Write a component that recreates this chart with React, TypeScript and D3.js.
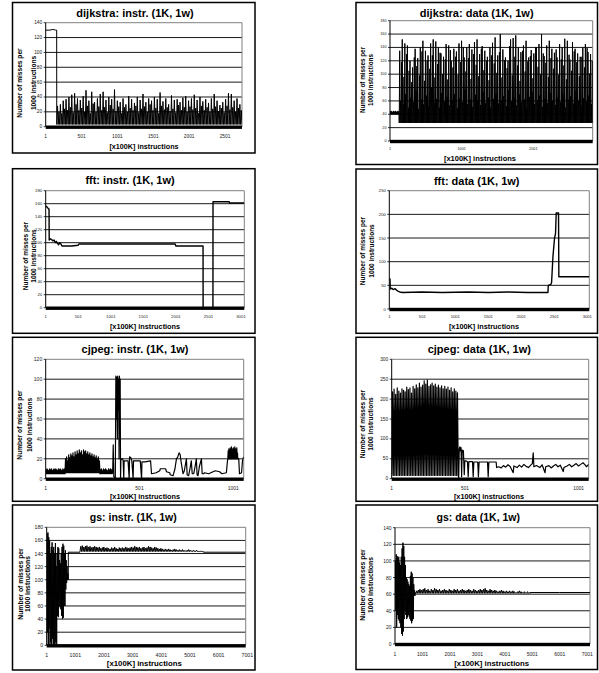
import React from "react";
import * as d3 from "d3";

type Pt = [number, number];
type Seg =
  | { pts: Pt[] }
  | { from: number; to: number; low: number | number[]; highs: number[] };

// ---------------- DATA ----------------
const TITLES = [
  "dijkstra: instr. (1K, 1w)",
  "dijkstra: data (1K, 1w)",
  "fft: instr. (1K, 1w)",
  "fft: data (1K, 1w)",
  "cjpeg: instr. (1K, 1w)",
  "cjpeg: data (1K, 1w)",
  "gs: instr. (1K, 1w)",
  "gs: data (1K, 1w)",
];
const X_LABEL = "[x100K] instructions";
const Y_LABEL = ["Number of misses per", "1000 instructions"];

const X_TICKS_DIJ_INSTR = [1, 501, 1001, 1501, 2001, 2501];
const X_TICKS_DIJ_DATA = [1, 1001, 2001];
const X_TICKS_FFT = [1, 501, 1001, 1501, 2001, 2501, 3001];
const X_TICKS_CJPEG = [1, 501, 1001];
const X_TICKS_GS = [1, 1001, 2001, 3001, 4001, 5001, 6001, 7001];

// dijkstra instr
const DIJ_INSTR_HEAD: Pt[] = [[1, 130], [60, 130], [100, 131], [140, 130], [154, 130], [155, 5]];
const DIJ_INSTR_LOW = 3;
const DIJ_INSTR_PEAKS = [
  28, 20, 30, 18, 35, 24, 37, 22, 40, 26, 43, 19, 45, 30, 38, 22, 36, 25, 41, 20,
  49, 28, 35, 18, 47, 31, 33, 20, 38, 27, 44, 22, 47, 26, 36, 19, 40, 29, 37, 24,
  50, 21, 35, 27, 33, 18, 38, 26, 30, 20, 41, 25, 37, 22, 32, 28, 40, 19, 36, 24,
  44, 27, 33, 20, 38, 30, 35, 22, 40, 25, 37, 18, 46, 28, 34, 23, 38, 26, 30, 21,
  42, 24, 36, 19, 37, 29, 33, 22, 39, 26, 41, 20, 35, 27, 38, 23, 43, 25, 36, 18,
  40, 28, 34, 22, 37, 26, 32, 20, 38, 24, 44, 27, 35, 21, 29, 25, 33, 19, 37, 28,
  45, 23, 44, 26, 35, 20, 38, 25, 30, 22,
];

// dijkstra data
const DIJ_DATA_HEAD_LOW = 40;
const DIJ_DATA_HEAD_PEAKS = [44, 45, 44, 43, 45, 44, 44, 45, 43, 44, 45, 44];
const DIJ_DATA_LOW = 27;
const DIJ_DATA_SPIKES = [
  135, 152, 146, 143, 120, 110, 138, 124, 140, 150, 135, 128, 146, 152, 149, 140, 131, 126, 145, 143,
  120, 138, 134, 146, 150, 125, 140, 145, 137, 148, 152, 130, 142, 135, 126, 140, 147, 155, 128, 160,
  137, 125, 120, 152, 154, 158, 140, 133, 143, 150, 125, 136, 131, 140, 145, 160, 127, 143, 150, 138,
  132, 125, 145, 140, 153, 150, 122, 148, 138, 131, 126, 140, 145, 133, 130,
];
const DIJ_DATA_MIDS = [
  60, 55, 70, 50, 65, 58, 75, 48, 62, 55, 68, 52, 80, 57, 63, 50, 72, 59, 66, 53,
  61, 70, 49, 64, 58, 77, 55, 62, 51, 69, 60, 54, 73, 57, 65, 50, 63, 71, 56, 60,
  67, 52, 76, 59, 64, 53, 70, 58, 62, 49, 66, 74, 55, 61, 68, 51, 63, 57, 72, 60,
  54, 65, 58, 70, 50, 62, 67, 56, 75, 60, 53, 64, 59, 68, 55,
];
const DIJ_DATA_SPIKES_B = [
  118, 96, 130, 105, 88, 125, 112, 98, 134, 90, 120, 108, 128, 95, 115, 132, 100, 122, 92, 136,
  110, 126, 99, 118, 140, 104, 124, 93, 130, 114, 97, 138, 106, 120, 91, 128, 116, 102, 133, 95,
  121, 109, 142, 98, 126, 113, 90, 135, 104, 119, 127, 94, 140, 111, 100, 131, 117, 96, 124, 108,
  137, 99, 122, 113, 92, 129, 105, 134, 118, 97, 126, 110, 139, 101, 120,
];

// fft instr
const FFT_INSTR: Pt[] = [
  [1, 157], [20, 155], [45, 152], [52, 152], [55, 104], [70, 106], [90, 105], [110, 103],
  [130, 104], [150, 100], [165, 102], [180, 99], [200, 97], [215, 100], [235, 98], [250, 95],
  [400, 95], [500, 96], [510, 98], [1000, 98], [1500, 98], [1990, 98], [2000, 95], [2418, 95],
  [2419, 0], [2570, 0], [2571, 163], [2820, 163], [2825, 161], [3052, 161],
];

// fft data
const FFT_DATA: Pt[] = [
  [1, 65], [12, 63], [15, 42], [40, 44], [60, 41], [90, 43], [110, 40], [130, 38], [160, 36],
  [200, 35], [500, 36], [800, 35], [1200, 36], [1500, 35], [1800, 36], [2100, 35], [2405, 35],
  [2410, 50], [2450, 52], [2460, 56], [2480, 110], [2505, 150], [2520, 160], [2530, 203],
  [2565, 203], [2570, 68], [3031, 68],
];

// cjpeg instr
const CJ_INSTR_A_PEAKS = [9, 10, 9, 8, 10, 9, 10, 8, 9, 10, 9, 10, 9, 8, 10, 9, 10, 9, 8, 10, 9, 10];
const CJ_INSTR_B_PEAKS = [
  20, 22, 18, 24, 21, 25, 23, 26, 22, 27, 24, 28, 25, 29, 26, 28, 24, 29, 27, 28,
  25, 27, 24, 26, 23, 25, 22, 24, 21, 23, 20, 22, 18,
];
const CJ_INSTR_C_PEAKS = [9, 10, 8, 10, 9, 10, 9, 8, 10, 9, 10, 9];
const CJ_INSTR_MID: Pt[] = [
  [358, 6], [361, 34], [364, 2], [372, 0], [375, 103], [378, 60], [380, 102], [383, 40],
  [385, 103], [388, 70], [390, 100], [392, 20], [394, 103], [396, 85], [398, 100], [400, 0],
  [402, 20], [410, 20], [414, 18], [417, 0], [419, 18], [440, 18], [446, 0], [448, 22],
  [455, 21], [460, 18], [467, 0], [469, 18], [505, 18], [512, 0], [514, 17], [530, 17],
  [560, 18], [565, 5], [590, 6], [609, 8], [612, 10], [640, 10], [645, 7], [662, 6],
  [665, 4], [680, 3], [690, 10], [698, 20], [705, 22], [712, 26], [718, 24], [722, 18],
  [733, 5], [740, 8], [751, 20], [755, 4], [763, 3], [770, 10], [777, 18], [782, 5],
  [790, 5], [797, 12], [804, 20], [808, 4], [813, 3], [820, 12], [831, 20], [835, 5],
  [843, 5], [848, 6], [870, 5], [893, 7], [905, 8], [928, 7], [940, 5], [964, 6], [970, 18],
];
const CJ_INSTR_E_PEAKS = [28, 30, 27, 31, 29, 32, 28, 30, 31, 29, 32, 30, 28, 31, 26];
const CJ_INSTR_TAIL: Pt[] = [[1030, 20], [1034, 5], [1045, 6], [1050, 18], [1056, 22]];

// cjpeg data
const CJ_DATA_LOW = 8;
const CJ_DATA_PEAKS = [
  218, 225, 212, 228, 220, 215, 226, 222, 218, 230, 224, 228, 215, 232, 226, 236, 228, 240, 230, 235,
  246, 238, 248, 232, 236, 240, 233, 238, 230, 235, 228, 233, 226, 232, 225, 230, 222, 228, 218, 226,
  220, 216,
];
const CJ_DATA_TAIL: Pt[] = [
  [458, 2], [462, 75], [466, 80], [470, 70], [474, 78], [478, 5], [482, 72], [490, 70],
  [496, 10], [500, 45], [508, 44], [512, 42], [515, 5], [518, 43], [534, 43], [537, 5],
  [540, 42], [557, 42], [560, 5], [563, 42], [600, 42], [603, 5], [606, 42], [638, 42],
  [640, 28], [650, 30], [660, 27], [670, 33], [680, 29], [690, 35], [700, 30], [713, 15],
  [716, 32], [730, 28], [740, 34], [750, 29], [760, 36], [770, 31], [780, 28], [790, 34],
  [797, 38], [801, 65], [804, 30], [815, 33], [830, 28], [840, 35], [853, 15], [856, 30],
  [870, 33], [880, 27], [890, 32], [900, 36], [910, 30], [920, 34], [933, 18], [936, 28],
  [950, 32], [960, 36], [970, 30], [980, 34], [990, 38], [1000, 32], [1010, 36], [1020, 40],
  [1030, 34], [1035, 30], [1045, 36],
];

// gs instr
const GS_INSTR_HIGHS = [170, 172, 165, 160, 140, 150, 157, 145, 150, 140, 156, 120, 140, 150, 148, 130, 125, 140, 150, 155, 152, 140, 145, 130, 120, 110];
const GS_INSTR_LOWS = [0, 20, 0, 25, 0, 5, 0, 10, 0, 2, 0, 5, 0, 45, 43, 60, 58, 55, 45, 40, 42, 60, 60, 85, 95, 100];
const GS_INSTR_BAND_LOW = 143;
const GS_INSTR_BAND = [
  151, 152, 150, 151, 152, 150, 151, 149, 150, 151, 150, 149, 150, 148, 149, 150, 148, 149, 148, 147,
  149, 148, 150, 148, 147, 149, 148, 149, 148, 150, 149, 148, 149, 150, 149, 151, 150, 149, 150, 148,
  149, 150, 148, 149, 151, 150, 149, 148, 150, 149, 148, 147, 148, 147, 146, 147, 146, 147, 146, 145,
  146, 147, 146, 145, 146, 145, 146, 145, 144, 145, 146, 145, 144, 145, 144, 145, 144, 143, 144, 143,
];

// gs data
const GS_DATA_HIGHS = [100, 108, 106, 104, 105, 98, 95, 105, 115, 122, 118, 105, 95, 80, 78, 75, 72, 70, 82, 87, 85, 80, 72, 65];
const GS_DATA_LOWS = [60, 40, 20, 35, 30, 28, 25, 20, 12, 10, 15, 30, 40, 35, 30, 32, 35, 33, 30, 28, 25, 28, 30, 58];
const GS_DATA_BAND_LOW = 61;
const GS_DATA_BAND = [
  64, 65, 66, 65, 66, 67, 65, 66, 64, 66, 65, 67, 66, 65, 66, 64, 65, 66, 65, 64,
  66, 65, 64, 66, 65, 66, 64, 65, 66, 65, 64, 65, 66, 65, 64, 66, 65, 64, 65, 66,
  65, 66, 67, 65, 64, 66, 65, 64, 65, 64, 63, 64, 65, 64, 63, 64, 63, 64, 63, 64,
  63, 62, 63, 64, 63, 62, 63, 62, 63, 62,
];

// ---------------- SERIES ----------------
const interleave3 = (a: number[], b: number[], c: number[]) => d3.zip(a, b, c).flat();

const SERIES: Seg[][] = [
  [
    { pts: DIJ_INSTR_HEAD },
    { from: 156, to: 2738, low: DIJ_INSTR_LOW, highs: DIJ_INSTR_PEAKS },
  ],
  [
    { from: 1, to: 128, low: DIJ_DATA_HEAD_LOW, highs: DIJ_DATA_HEAD_PEAKS },
    { from: 130, to: 2830, low: DIJ_DATA_LOW, highs: interleave3(DIJ_DATA_SPIKES, DIJ_DATA_MIDS, DIJ_DATA_SPIKES_B) },
  ],
  [{ pts: FFT_INSTR }],
  [{ pts: FFT_DATA }],
  [
    { from: 1, to: 104, low: 5, highs: CJ_INSTR_A_PEAKS },
    { from: 104, to: 290, low: 6, highs: CJ_INSTR_B_PEAKS },
    { from: 290, to: 355, low: 5, highs: CJ_INSTR_C_PEAKS },
    { pts: CJ_INSTR_MID },
    { from: 972, to: 1025, low: 20, highs: CJ_INSTR_E_PEAKS },
    { pts: CJ_INSTR_TAIL },
  ],
  [
    { from: 1, to: 455, low: CJ_DATA_LOW, highs: CJ_DATA_PEAKS },
    { pts: CJ_DATA_TAIL },
  ],
  [
    { from: 1, to: 755, low: GS_INSTR_LOWS, highs: GS_INSTR_HIGHS },
    { pts: [[755, 142], [1160, 142]] },
    { from: 1163, to: 5465, low: GS_INSTR_BAND_LOW, highs: GS_INSTR_BAND },
    { pts: [[5470, 142], [6944, 142]] },
  ],
  [
    { from: 1, to: 729, low: GS_DATA_LOWS, highs: GS_DATA_HIGHS },
    { pts: [[729, 60], [760, 62]] },
    { from: 760, to: 4915, low: GS_DATA_BAND_LOW, highs: GS_DATA_BAND },
    { pts: [[4920, 62], [6000, 62], [7099, 62]] },
  ],
];

const Y_MAX = [140, 180, 180, 250, 120, 300, 180, 140];
const Y_STEP = [20, 20, 20, 50, 20, 50, 20, 20];
const X_TICKS = [X_TICKS_DIJ_INSTR, X_TICKS_DIJ_DATA, X_TICKS_FFT, X_TICKS_FFT, X_TICKS_CJPEG, X_TICKS_CJPEG, X_TICKS_GS, X_TICKS_GS];

// ---------------- LAYOUT ----------------
const LAYOUT = [
  { box: [12.5, 2.5, 255, 153], plot: [45.7, 242, 22.7, 126.7], xd: [1, 2501], xr: [45.7, 225], title: [135, 13.3, 11], xl: [144, 146, 7.2], yl: [19.3, 33.3, 83, 6.6], tick: 4.8, xty: 136, lw: 1 },
  { box: [356, 2.5, 597.5, 164.5], plot: [390, 592.7, 20.7, 141], xd: [1, 2001], xr: [390, 533.3], title: [476.7, 13.3, 11], xl: [480, 158.7, 7.5], yl: [362, 370.7, 80, 6.3], tick: 3.8, xty: 149.3, lw: 1 },
  { box: [12.5, 168.7, 255, 333.3], plot: [45.7, 244.3, 190.7, 307.7], xd: [1, 3001], xr: [45.7, 241], title: [130, 180, 11], xl: [145, 326.5, 7.3], yl: [25, 33.3, 256, 6.5], tick: 4.3, xty: 316.7, lw: 1.4 },
  { box: [356, 169, 597.5, 333.3], plot: [389.3, 589.3, 190.7, 309], xd: [1, 3001], xr: [389.3, 587.3], title: [476.7, 180.7, 11], xl: [484, 326.5, 7.3], yl: [362, 371, 251, 6.5], tick: 4.2, xty: 316.7, lw: 1.4 },
  { box: [12.5, 337.3, 255, 501.3], plot: [45.7, 243.7, 359.3, 478.7], xd: [1, 1001], xr: [45.7, 233.3], title: [135, 349.3, 11], xl: [145, 496.5, 7.3], yl: [19.3, 29.3, 425, 6.6], tick: 5, xty: 488, lw: 1.2 },
  { box: [356, 337.3, 597.5, 501.3], plot: [391.7, 588.7, 359.3, 478.7], xd: [1, 501, 1001], xr: [391.7, 465, 578.7], title: [479.3, 349.3, 11], xl: [489, 496.5, 7.3], yl: [362.3, 370, 424, 6.5], tick: 4.8, xty: 488, lw: 1.2 },
  { box: [12.5, 505, 255, 670], plot: [46.7, 245.7, 527.3, 645.3], xd: [1, 7001], xr: [46.7, 247.3], title: [133.3, 516.7, 10.5], xl: [144.3, 663.3, 7.8], yl: [20, 27.3, 584, 6.8], tick: 5.2, xty: 655, lw: 1 },
  { box: [356, 505, 597.5, 669.5], plot: [395, 590, 527.7, 644], xd: [1, 7001], xr: [395, 587.3], title: [478.3, 516.7, 10.5], xl: [491.7, 663.3, 7.8], yl: [362.3, 370, 585, 6.8], tick: 5, xty: 654, lw: 1 },
];

const FONT = "'Liberation Sans', Arial, Helvetica, sans-serif";

function expand(segs: Seg[]): Pt[] {
  const out: Pt[] = [];
  for (const s of segs) {
    if ("pts" in s) {
      out.push(...s.pts);
      continue;
    }
    const n = s.highs.length;
    const step = (s.to - s.from) / (2 * n);
    for (let i = 0; i < n; i++) {
      const lo = Array.isArray(s.low) ? s.low[i] : s.low;
      out.push([s.from + 2 * i * step, lo]);
      out.push([s.from + (2 * i + 1) * step, s.highs[i]]);
    }
    const lastLo = Array.isArray(s.low) ? s.low[n - 1] : s.low;
    out.push([s.to, lastLo]);
  }
  return out;
}

function Panel({ i }: { i: number }) {
  const L = LAYOUT[i];
  const [l, r, t, b] = L.plot;
  const x = d3.scaleLinear().domain(L.xd).range(L.xr);
  const y = d3.scaleLinear().domain([0, Y_MAX[i]]).range([b, t]);
  const yTicks = d3.range(0, Y_MAX[i] + Y_STEP[i] / 2, Y_STEP[i]);
  const pts = expand(SERIES[i]);
  const path = d3.line<Pt>().x((d) => x(d[0])).y((d) => y(d[1]))(pts) || "";
  const clip = `clip-${i}`;
  const [bx0, by0, bx1, by1] = L.box;
  return (
    <g>
      <defs>
        <clipPath id={clip}>
          <rect x={l} y={t - 2} width={r - l} height={b - t + 4} />
        </clipPath>
      </defs>
      <rect x={bx0} y={by0} width={bx1 - bx0} height={by1 - by0} fill="#fff" stroke="#000" strokeWidth={1.5} />
      {yTicks
        .filter((v) => v > 0 && v < Y_MAX[i])
        .map((v) => (
          <line key={v} x1={l} x2={r} y1={y(v)} y2={y(v)} stroke="#000" strokeWidth={0.9} />
        ))}
      <line x1={l} x2={r} y1={t} y2={t} stroke="#808080" strokeWidth={1} />
      <line x1={r} x2={r} y1={t} y2={b} stroke="#808080" strokeWidth={1} />
      <path d={path} clipPath={`url(#${clip})`} fill="none" stroke="#000" strokeWidth={L.lw} strokeLinejoin="round" />
      <line x1={l} x2={l} y1={t} y2={b} stroke="#000" strokeWidth={1} />
      {yTicks.map((v) => (
        <g key={v}>
          <line x1={l - 2} x2={l} y1={y(v)} y2={y(v)} stroke="#000" strokeWidth={0.8} />
          <text x={l - 3.5} y={y(v)} fontSize={L.tick} fontFamily={FONT} fill="#222" textAnchor="end" dominantBaseline="central">
            {v}
          </text>
        </g>
      ))}
      <rect x={l} y={b - 1.2} width={r - l} height={3.4} fill="#000" />
      {X_TICKS[i].map((v) => (
        <text key={v} x={x(v)} y={L.xty} fontSize={L.tick} fontFamily={FONT} fill="#222" textAnchor="middle" dominantBaseline="central">
          {v}
        </text>
      ))}
      <text x={L.title[0]} y={L.title[1]} fontSize={L.title[2]} fontWeight="bold" fontFamily={FONT} textAnchor="middle" dominantBaseline="central">
        {TITLES[i]}
      </text>
      <text x={L.xl[0]} y={L.xl[1]} fontSize={L.xl[2]} fontWeight="bold" fontFamily={FONT} textAnchor="middle" dominantBaseline="central">
        {X_LABEL}
      </text>
      {Y_LABEL.map((s, k) => (
        <text
          key={k}
          transform={`translate(${L.yl[k]},${L.yl[2]}) rotate(-90)`}
          fontSize={L.yl[3]}
          fontWeight="bold"
          fontFamily={FONT}
          textAnchor="middle"
          dominantBaseline="central"
        >
          {s}
        </text>
      ))}
    </g>
  );
}

export default function App() {
  return (
    <svg
      width={599}
      height={673}
      viewBox="0 0 599 673"
      style={{ position: "absolute", left: 0, top: 0, background: "#fff" }}
    >
      <rect width={599} height={673} fill="#fff" />
      {LAYOUT.map((_, i) => (
        <Panel key={i} i={i} />
      ))}
    </svg>
  );
}
